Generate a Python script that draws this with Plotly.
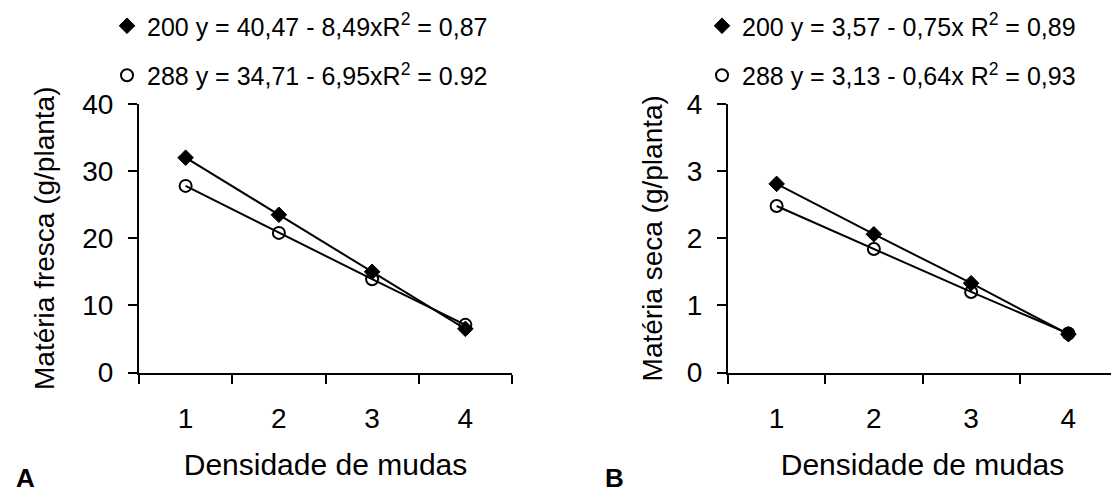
import plotly.graph_objects as go

# ---- data ----
densidade = ["1", "2", "3", "4"]
fresca_200 = [32.0, 23.5, 15.0, 6.5]
fresca_288 = [27.8, 20.8, 13.9, 7.1]
seca_200 = [2.81, 2.06, 1.33, 0.57]
seca_288 = [2.48, 1.84, 1.20, 0.58]

legend_a = ["200 y = 40,47 - 8,49xR<sup>2</sup> = 0,87",
            "288 y = 34,71 - 6,95xR<sup>2</sup> = 0.92"]
legend_b = ["200 y = 3,57 - 0,75x R<sup>2</sup> = 0,89",
            "288 y = 3,13 - 0,64x R<sup>2</sup> = 0,93"]

yticks_a = [0, 10, 20, 30, 40]
yticks_b = [0, 1, 2, 3, 4]

W, H = 1119, 491
OFF = 8  # page body margin offset in the browser
FONT = "Arial, Liberation Sans, Helvetica, sans-serif"


def px(x):
    return (x - OFF) / W


def py(y):
    return (H - (y - OFF)) / H


fig = go.Figure()

diamond = dict(symbol="diamond", size=12, color="black", line=dict(color="black", width=1))
circle = dict(symbol="circle-open", size=12, color="black", line=dict(color="black", width=2))
line = dict(color="black", width=2)

# data traces
for xa, ya, s200, s288 in [("x", "y", fresca_200, fresca_288), ("x2", "y2", seca_200, seca_288)]:
    fig.add_trace(go.Scatter(x=densidade, y=s200, mode="lines+markers", marker=diamond,
                             line=line, xaxis=xa, yaxis=ya, showlegend=False))
    fig.add_trace(go.Scatter(x=densidade, y=s288, mode="lines+markers", marker=circle,
                             line=line, xaxis=xa, yaxis=ya, showlegend=False))

# legend-only traces (marker + equation)
for leg, names, xa, ya in [("legend", legend_a, "x", "y"), ("legend2", legend_b, "x2", "y2")]:
    for i, (nm, mk) in enumerate(zip(names, [diamond, circle])):
        fig.add_trace(go.Scatter(x=[None], y=[None], mode="markers", marker=mk, name=nm,
                                 legend=leg, legendgroup=f"{leg}_{i}", xaxis=xa, yaxis=ya))

ydom = [py(372.5), py(104)]


def xaxis_cfg(d0, d1, anchor):
    return dict(domain=[px(d0), px(d1)], anchor=anchor, type="category", automargin=False,
                range=[-0.5, 3.5], tickson="boundaries", ticks="outside", ticklen=9,
                tickwidth=2, tickcolor="black", showline=True, linewidth=2, linecolor="black",
                showgrid=False, zeroline=False, ticklabelstandoff=20,
                tickfont=dict(size=28),
                title=dict(text="Densidade de mudas", font=dict(size=30), standoff=21))


def yaxis_cfg(rng, tv, anchor, title, standoff):
    return dict(domain=ydom, anchor=anchor, range=rng, tickvals=tv, ticks="outside",
                automargin=False,
                ticklen=9, tickwidth=2, tickcolor="black", showline=True, linewidth=2,
                linecolor="black", showgrid=False, zeroline=False, ticklabelstandoff=9,
                tickfont=dict(size=28),
                title=dict(text=title, font=dict(size=28), standoff=standoff))


legend_common = dict(xanchor="left", yanchor="top", font=dict(size=25, family=FONT),
                     bgcolor="rgba(0,0,0,0)", tracegroupgap=14, traceorder="grouped",
                     borderwidth=0)

fig.update_layout(
    template="none",
    width=W, height=H, margin=dict(l=0, r=0, t=0, b=0, autoexpand=False),
    paper_bgcolor="white", plot_bgcolor="white",
    font=dict(family=FONT, color="black", size=27),
    xaxis=xaxis_cfg(139, 512, "y"),
    yaxis=yaxis_cfg([0, 40], yticks_a, "x", "Matéria fresca (g/planta)", 19),
    xaxis2=xaxis_cfg(728, 1117, "y2"),
    yaxis2=yaxis_cfg([0, 4], yticks_b, "x2", "Matéria seca (g/planta)", 16),
    legend=dict(x=px(99 + OFF), y=py(3), **legend_common),
    legend2=dict(x=px(694 + OFF), y=py(3), **legend_common),
    annotations=[
        dict(text="<b>A</b>", x=px(14), y=py(478), xref="paper", yref="paper",
             xanchor="left", yanchor="middle", showarrow=False, font=dict(size=26)),
        dict(text="<b>B</b>", x=px(603), y=py(478), xref="paper", yref="paper",
             xanchor="left", yanchor="middle", showarrow=False, font=dict(size=26)),
    ],
)

fig.write_html("out.html")
